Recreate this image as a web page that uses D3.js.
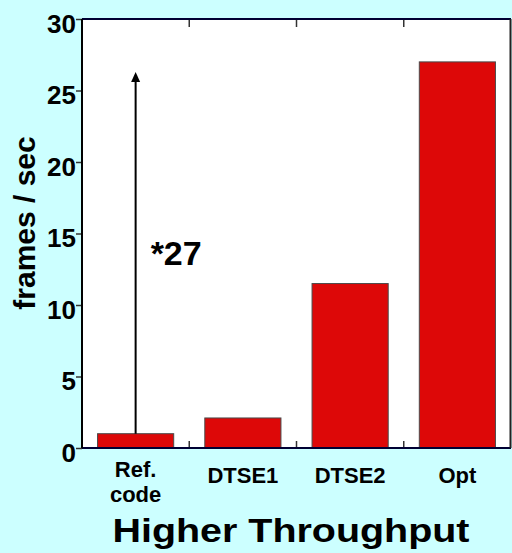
<!DOCTYPE html>
<html>
<head>
<meta charset="utf-8">
<script src="https://cdn.jsdelivr.net/npm/d3@7"></script>
<style>
  html, body { margin: 0; padding: 0; background: #ccffff; }
  svg { display: block; }
  text { font-family: "Liberation Sans", Arial, sans-serif; font-weight: bold; fill: #000; }
</style>
</head>
<body>
<svg id="chart" width="512" height="553"></svg>
<script>
// Frame rates for each implementation step
const categories = ["Ref.\ncode", "DTSE1", "DTSE2", "Opt"];
const framesPerSec = [1, 2.1, 11.5, 27];
const yTicks = [0, 5, 10, 15, 20, 25, 30];
const speedupLabel = "*27";
const arrowFrom = 1;
const arrowTo = 26.3;

const W = 512, H = 553;
const margin = { top: 19, right: 1, bottom: 105, left: 82 };
const x0 = margin.left, x1 = W - margin.right;
const y0 = H - margin.bottom, y1 = margin.top;

const svg = d3.select("#chart");

const x = d3.scaleBand()
  .domain(categories)
  .range([x0, x1])
  .paddingInner(0.29)
  .paddingOuter(0.145);

const y = d3.scaleLinear().domain([0, 30]).range([y0, y1]);

// plot area
svg.append("rect")
  .attr("x", x0).attr("y", y1)
  .attr("width", x1 - x0).attr("height", y0 - y1)
  .attr("fill", "#ffffff");

// bars
svg.append("g").selectAll("rect")
  .data(categories)
  .join("rect")
  .attr("x", d => x(d))
  .attr("y", (d, i) => y(framesPerSec[i]))
  .attr("width", x.bandwidth())
  .attr("height", (d, i) => y(0) - y(framesPerSec[i]))
  .attr("fill", "#dd0808")
  .attr("stroke", "#4a4a4a")
  .attr("stroke-width", 1);

// category divider ticks (inside, top and bottom)
const step = x.step();
const dividers = categories.slice(0, -1).map(d => x(d) + x.bandwidth() + step * x.paddingInner() / 2);
const tg = svg.append("g").attr("stroke", "#333").attr("stroke-width", 1.5);
dividers.forEach(px => {
  tg.append("line").attr("x1", px).attr("x2", px).attr("y1", y0).attr("y2", y0 - 7);
  tg.append("line").attr("x1", px).attr("x2", px).attr("y1", y1).attr("y2", y1 + 8);
});

// y axis
const yAxis = svg.append("g")
  .attr("transform", `translate(${x0},0)`)
  .call(d3.axisLeft(y).tickValues(yTicks).tickSize(6).tickPadding(0));
yAxis.select(".domain").remove();
yAxis.selectAll(".tick line").attr("stroke", "#333").attr("stroke-width", 1.5);
yAxis.selectAll(".tick text")
  .attr("font-family", "Liberation Sans, Arial, sans-serif")
  .attr("font-weight", "bold")
  .attr("font-size", 26)
  .attr("dy", "0.5em")
  .attr("fill", "#000");

// plot border
svg.append("line").attr("x1", x0).attr("x2", x1).attr("y1", y1).attr("y2", y1)
  .attr("stroke", "#000033").attr("stroke-width", 2);
svg.append("line").attr("x1", x0).attr("x2", x1).attr("y1", y0).attr("y2", y0)
  .attr("stroke", "#000033").attr("stroke-width", 2);
svg.append("line").attr("x1", x0).attr("x2", x0).attr("y1", y1).attr("y2", y0)
  .attr("stroke", "#000000").attr("stroke-width", 2);
svg.append("line").attr("x1", x1 - 0.5).attr("x2", x1 - 0.5).attr("y1", y1).attr("y2", y0)
  .attr("stroke", "#222222").attr("stroke-width", 2);

// speed-up arrow from the reference bar
const ax = x(categories[0]) + x.bandwidth() / 2;
const tipY = y(arrowTo);
svg.append("line")
  .attr("x1", ax).attr("x2", ax)
  .attr("y1", y(arrowFrom)).attr("y2", tipY + 8)
  .attr("stroke", "#000").attr("stroke-width", 2);
svg.append("path")
  .attr("d", `M${ax},${tipY} L${ax - 4.5},${tipY + 10} L${ax + 4.5},${tipY + 10} Z`)
  .attr("fill", "#000");
svg.append("text")
  .attr("x", ax + 15).attr("y", y(12.8))
  .attr("font-size", 34)
  .text(speedupLabel);

// category labels
categories.forEach(c => {
  const lines = c.split("\n");
  const cx = x(c) + x.bandwidth() / 2;
  const base = lines.length > 1 ? y0 + 29 : y0 + 35;
  lines.forEach((ln, k) => {
    svg.append("text")
      .attr("x", cx).attr("y", base + k * 25)
      .attr("text-anchor", "middle")
      .attr("font-size", 22)
      .text(ln);
  });
});

// y axis title
svg.append("text")
  .attr("transform", `translate(35,223) rotate(-90)`)
  .attr("text-anchor", "middle")
  .attr("font-size", 30)
  .text("frames / sec");

// chart caption
svg.append("text")
  .attr("x", 291).attr("y", 542)
  .attr("text-anchor", "middle")
  .attr("font-size", 34)
  .attr("textLength", 357)
  .attr("lengthAdjust", "spacingAndGlyphs")
  .text("Higher Throughput");
</script>
</body>
</html>
